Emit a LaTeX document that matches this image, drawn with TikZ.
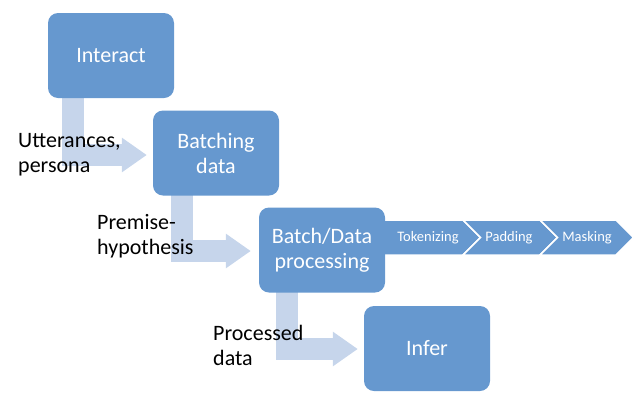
\documentclass[tikz,border=0pt]{standalone}
\usepackage{fontspec}
\setmainfont{Carlito}
\usetikzlibrary{arrows.meta,calc,backgrounds}
\definecolor{boxblue}{RGB}{102,152,207}
\definecolor{arrowblue}{RGB}{198,213,235}
\begin{document}
\begin{tikzpicture}[x=1pt,y=-1pt,
  box/.style={draw=none, fill=boxblue, rounded corners=10pt, minimum width=126pt,
    minimum height=85pt, text=white, font=\fontsize{22}{25}\selectfont, align=center, inner sep=0pt},
  lbl/.style={font=\fontsize{22}{25}\selectfont, align=left, anchor=west, inner sep=0pt, text=black},
  flow/.style={draw=arrowblue, line width=22pt, line join=miter,
    -{Triangle[length=25pt,width=33pt]}},
  chev/.style={fill=boxblue, draw=white, line width=1.5pt, line join=miter},
  chevtext/.style={text=white, font=\fontsize{14.5}{16}\selectfont, inner sep=0pt}]
\useasboundingbox (0,0) rectangle (642,405);

\node[box] (interact) at (111,55.5) {Interact};
\node[box] (batching) at (216,153) {Batching\\data};
\node[box] (batch) at (322,250) {Batch/Data\\processing};
\node[box] (infer) at (427,348.5) {Infer};

\begin{pgfonlayer}{background}
  \draw[flow] ($(interact.south west)+(25.5,-5)$) |- ($(batching.west)+(-6,2)$);
  \draw[flow] ($(batching.south west)+(29,-5)$) |- ($(batch.west)+(-8,1)$);
  \draw[flow] ($(batch.south west)+(28,-5)$) |- ($(infer.west)+(-6,0.5)$);
  \draw[chev] (383,220) -- (463,220) -- (480.5,237.5) -- (463,255) -- (383,255) -- cycle;
  \draw[chev] (463,220) -- (540,220) -- (557.5,237.5) -- (540,255) -- (463,255) -- (480.5,237.5) -- cycle;
  \draw[chev] (540,220) -- (616,220) -- (633.5,237.5) -- (616,255) -- (540,255) -- (557.5,237.5) -- cycle;
\end{pgfonlayer}

\node[chevtext] (tok) at (428,237.5) {Tokenizing};
\node[chevtext] (pad) at (509,237.5) {Padding};
\node[chevtext] (mask) at (587,237.5) {Masking};

\node[lbl] (l1) at (18,155) {Utterances,\\persona};
\node[lbl] (l2) at (97,236) {Premise-\\hypothesis};
\node[lbl] (l3) at (213,345) {Processed\\data};
\end{tikzpicture}
\end{document}
